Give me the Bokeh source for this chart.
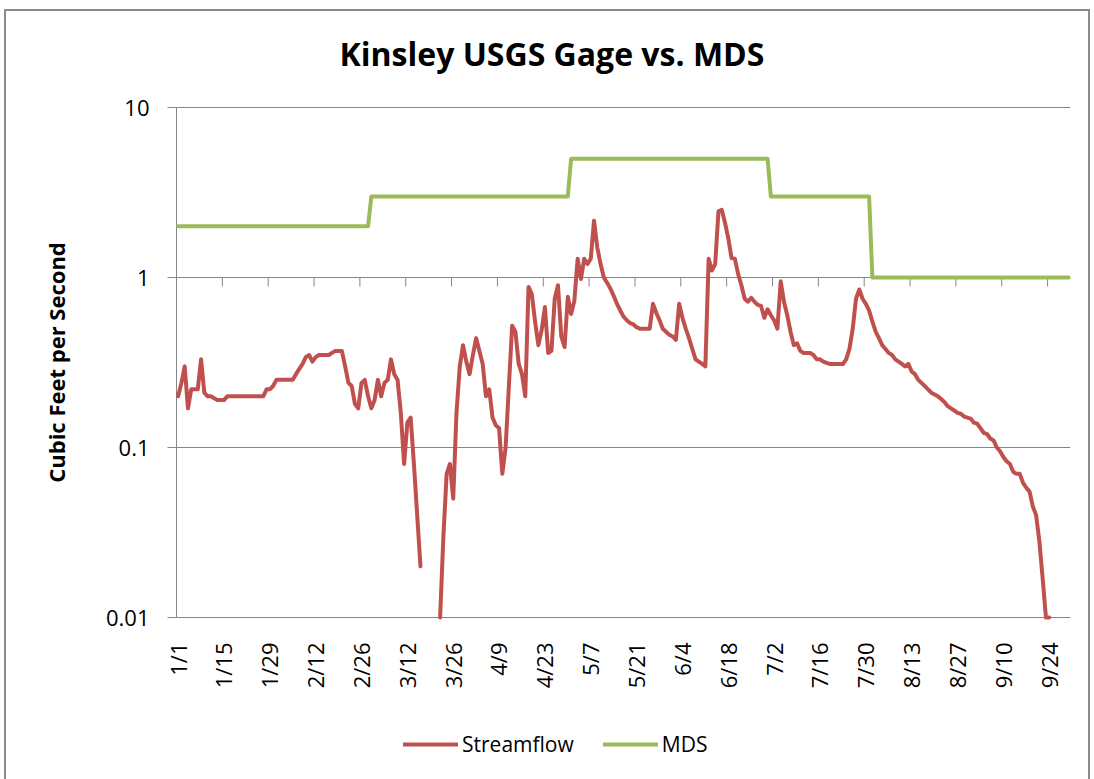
from math import pi
from bokeh.plotting import figure
from bokeh.models import Range1d, Legend, LegendItem
from bokeh.core.properties import value
from bokeh.embed import file_html
from bokeh.resources import INLINE

nan = float("nan")

# ---------------- data (daily, 1/1 .. 9/30) ----------------
title_text = "Kinsley USGS Gage vs. MDS"
y_label = "Cubic Feet per Second"

jan_flow = [0.20, 0.24, 0.30, 0.17, 0.22, 0.22, 0.22, 0.33, 0.21, 0.20,
            0.20, 0.195, 0.19, 0.19, 0.19, 0.20, 0.20, 0.20, 0.20, 0.20,
            0.20, 0.20, 0.20, 0.20, 0.20, 0.20, 0.20, 0.22, 0.22, 0.23,
            0.25]
feb_flow = [0.25, 0.25, 0.25, 0.25, 0.25, 0.27, 0.29, 0.31, 0.34, 0.35,
            0.32, 0.34, 0.35, 0.35, 0.35, 0.35, 0.36, 0.37, 0.37, 0.37,
            0.30, 0.24, 0.23, 0.18, 0.17, 0.24, 0.25, 0.20]
mar_flow = [0.17, 0.19, 0.25, 0.20, 0.24, 0.25, 0.33, 0.27, 0.25, 0.16,
            0.08, 0.14, 0.15, 0.08, 0.04, 0.02, nan, nan, nan, nan,
            nan, 0.01, 0.03, 0.07, 0.08, 0.05, 0.16, 0.30, 0.40, 0.32,
            0.27]
apr_flow = [0.35, 0.44, 0.37, 0.31, 0.20, 0.22, 0.15, 0.135, 0.13, 0.07,
            0.10, 0.23, 0.52, 0.48, 0.31, 0.27, 0.20, 0.88, 0.80, 0.55,
            0.40, 0.49, 0.67, 0.36, 0.37, 0.75, 0.90, 0.45, 0.39, 0.77]
may_flow = [0.61, 0.73, 1.29, 0.98, 1.29, 1.20, 1.29, 2.16, 1.50, 1.20,
            1.00, 0.93, 0.86, 0.78, 0.70, 0.64, 0.59, 0.56, 0.54, 0.53,
            0.51, 0.50, 0.50, 0.50, 0.50, 0.70, 0.62, 0.56, 0.50, 0.48,
            0.46]
jun_flow = [0.45, 0.43, 0.70, 0.58, 0.50, 0.44, 0.38, 0.33, 0.32, 0.31,
            0.30, 1.29, 1.10, 1.20, 2.45, 2.50, 2.10, 1.70, 1.30, 1.29,
            1.05, 0.90, 0.75, 0.72, 0.76, 0.72, 0.69, 0.68, 0.58, 0.65]
jul_flow = [0.60, 0.56, 0.50, 0.95, 0.72, 0.60, 0.48, 0.40, 0.41, 0.37,
            0.36, 0.36, 0.36, 0.35, 0.33, 0.33, 0.32, 0.315, 0.31, 0.31,
            0.31, 0.31, 0.31, 0.33, 0.38, 0.50, 0.75, 0.85, 0.75, 0.70,
            0.64]
aug_flow = [0.55, 0.48, 0.44, 0.40, 0.38, 0.36, 0.35, 0.33, 0.32, 0.31,
            0.30, 0.31, 0.28, 0.27, 0.25, 0.24, 0.23, 0.22, 0.21, 0.205,
            0.20, 0.193, 0.185, 0.175, 0.17, 0.165, 0.16, 0.158, 0.152, 0.15,
            0.148]
sep_flow = [0.14, 0.138, 0.13, 0.122, 0.12, 0.113, 0.11, 0.10, 0.095, 0.088,
            0.083, 0.08, 0.072, 0.07, 0.07, 0.062, 0.058, 0.055, 0.045, 0.04,
            0.028, 0.017, 0.01, 0.01, nan, nan, nan, nan, nan, nan]

# MDS: value in force from a given day index (0 = 1/1)
mds_from_day = [0, 59, 120, 181, 212]
mds_cfs = [2, 3, 5, 3, 1]

# x-axis category labels (every 14 days) and their day index
x_tick_labels = ["1/1", "1/15", "1/29", "2/12", "2/26", "3/12", "3/26", "4/9",
                 "4/23", "5/7", "5/21", "6/4", "6/18", "7/2", "7/16", "7/30",
                 "8/13", "8/27", "9/10", "9/24"]
x_tick_days = [0, 14, 28, 42, 56, 70, 84, 98, 112, 126, 140, 154, 168, 182,
               196, 210, 224, 238, 252, 266]

y_ticks = [0.01, 0.1, 1, 10]
y_tick_labels = ["0.01", "0.1", "1", "10"]

# ---------------- build series ----------------
streamflow = (jan_flow + feb_flow + mar_flow + apr_flow + may_flow +
              jun_flow + jul_flow + aug_flow + sep_flow)
n_days = len(streamflow)
days = list(range(n_days))

mds = []
for d in days:
    v = mds_cfs[0]
    for start, val in zip(mds_from_day, mds_cfs):
        if d >= start:
            v = val
    mds.append(v)

RED = "#C0504D"
GREEN = "#9BBB59"
GRID = "#868686"
FONT = "Open Sans"

# ---------------- layout constants (pixels) ----------------
OFF_X, OFF_Y = 6, 11                 # css margin of the figure in the page
FIG_W, FIG_H = 1082, 768
FRAME_L = 24                         # frame starts near the left edge
PLOT_L, PLOT_R = 170, 1064           # visible plot area (figure px)
PLOT_T = 96                          # where the 10 line sits (figure px)
PX_PER_DECADE = 170.0
TICK_LEN, TICK_STANDOFF = 9, 18

px_per_day = (PLOT_R - PLOT_L) / n_days
x_axis_pos = -0.5
x_start = x_axis_pos - (PLOT_L - FRAME_L) / px_per_day
x_end = n_days - 0.5
y_max_tick = max(y_ticks)
y_top = 10 ** (1 + PLOT_T / PX_PER_DECADE)
y_bottom = 10 ** (1 - (FIG_H - PLOT_T) / PX_PER_DECADE)

p = figure(width=FIG_W, height=FIG_H, y_axis_type="log",
           x_axis_location=None, y_axis_location=None, title_location=None,
           x_range=Range1d(x_start, x_end),
           y_range=Range1d(y_bottom, y_top),
           output_backend="svg", toolbar_location=None,
           min_border_left=FRAME_L, min_border_right=FIG_W - PLOT_R,
           min_border_top=0, min_border_bottom=0)
p.outline_line_color = None
p.grid.visible = False
p.background_fill_color = "white"
p.border_fill_color = "white"
p.styles = {"margin-left": f"{OFF_X}px", "margin-top": f"{OFF_Y}px",
            "outline": "2px solid #8c8c8c"}

# chart title
p.text(x=[x_axis_pos], y=[y_max_tick], text=[title_text],
       x_offset=339 - OFF_X - PLOT_L, y_offset=-54,
       text_align="left", text_baseline="middle",
       text_font=value(FONT), text_font_style="bold",
       text_font_size=value("32px"), text_color="black")

# horizontal grid lines at the decades
nt = len(y_ticks)
p.segment(x0=[x_axis_pos] * nt, y0=y_ticks, x1=[x_end] * nt, y1=y_ticks,
          line_color=GRID, line_width=1)
# y axis line, ticks and labels
p.segment(x0=[x_axis_pos], y0=[min(y_ticks)], x1=[x_axis_pos], y1=[max(y_ticks)],
          line_color=GRID, line_width=1)
p.segment(x0=[x_axis_pos - TICK_LEN / px_per_day] * nt, y0=y_ticks,
          x1=[x_axis_pos] * nt, y1=y_ticks, line_color=GRID, line_width=1)
p.text(x=[x_axis_pos] * nt, y=y_ticks, text=y_tick_labels,
       x_offset=-(TICK_LEN + TICK_STANDOFF),
       text_align="right", text_baseline="middle",
       text_font=value(FONT), text_font_size=value("22px"), text_color="black")
# y axis title
y_mid = (min(y_ticks) * max(y_ticks)) ** 0.5
p.text(x=[x_axis_pos], y=[y_mid], text=[y_label], angle=pi / 2,
       x_offset=-(PLOT_L + OFF_X - 55),
       text_align="center", text_baseline="middle",
       text_font=value(FONT), text_font_style="bold",
       text_font_size=value("22px"), text_color="black")

# x "axis": tick marks hang below y = 1, labels below the 0.01 line
x_tick_pos = [d + x_axis_pos for d in x_tick_days]
nx = len(x_tick_pos)
p.segment(x0=x_tick_pos, y0=[1] * nx,
          x1=x_tick_pos, y1=[10 ** (-TICK_LEN / PX_PER_DECADE)] * nx,
          line_color=GRID, line_width=1)
p.text(x=x_tick_pos, y=[min(y_ticks)] * nx, text=x_tick_labels,
       angle=pi / 2, y_offset=25, x_offset=1,
       text_align="right", text_baseline="middle",
       text_font=value(FONT), text_font_size=value("22px"),
       text_color="black")

r_flow = p.line(days, streamflow, line_color=RED, line_width=4,
                line_join="round", line_cap="round")
r_mds = p.line(days, mds, line_color=GREEN, line_width=4,
               line_join="round", line_cap="round")

legend = Legend(items=[LegendItem(label="Streamflow", renderers=[r_flow]),
                       LegendItem(label="MDS", renderers=[r_mds])],
                location=(403 - OFF_X - FRAME_L, 21), orientation="horizontal",
                glyph_width=55, glyph_height=20, label_standoff=4,
                spacing=29, padding=0, margin=0,
                border_line_color=None, background_fill_alpha=0,
                label_text_font=FONT, label_text_font_size="21px",
                label_text_color="black")
p.add_layout(legend, "center")

open("out.html", "w").write(file_html(p, INLINE))
